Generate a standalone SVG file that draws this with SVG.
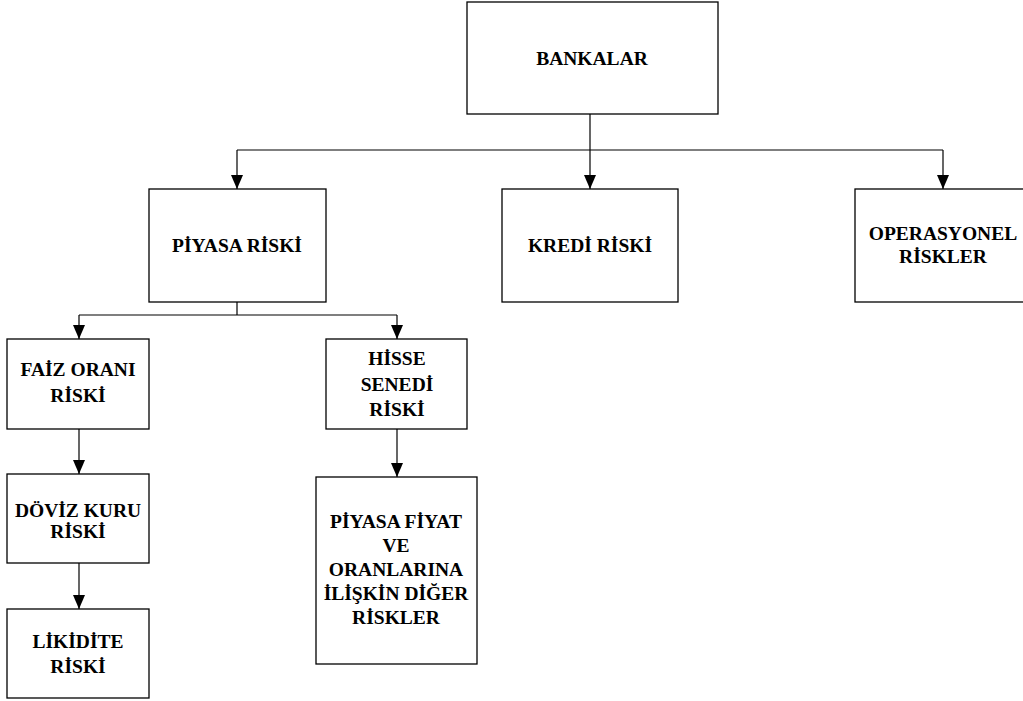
<svg xmlns="http://www.w3.org/2000/svg" width="1023" height="701" viewBox="0 0 1023 701">
<style>
.box{fill:#fff;stroke:#000;stroke-width:1.3}
.lbl{font-family:"Liberation Serif","Times New Roman",serif;font-weight:bold;font-size:19.5px;fill:#000;text-anchor:middle}
.con{fill:none;stroke:#000;stroke-width:1.2}
</style>
<defs>
<marker id="arr" markerUnits="userSpaceOnUse" markerWidth="14" markerHeight="12" refX="14" refY="6" orient="auto" viewBox="0 0 14 12">
<path d="M0,0 L14,6 L0,12 Z" fill="#000"/>
</marker>
</defs>
<rect width="1023" height="701" fill="#fff"/>
<g id="connectors">
<path class="con" d="M590,114 V150"/>
<path class="con" d="M237,150 H943"/>
<path class="con" d="M237,150 V189" marker-end="url(#arr)"/>
<path class="con" d="M590,150 V189" marker-end="url(#arr)"/>
<path class="con" d="M943,150 V189" marker-end="url(#arr)"/>
<path class="con" d="M237,302 V315 M79,315 H397"/>
<path class="con" d="M79,315 V339" marker-end="url(#arr)"/>
<path class="con" d="M397,315 V339" marker-end="url(#arr)"/>
<path class="con" d="M79,429 V474" marker-end="url(#arr)"/>
<path class="con" d="M79,563 V609" marker-end="url(#arr)"/>
<path class="con" d="M397,429 V477" marker-end="url(#arr)"/>
</g>
<g id="bankalar">
<rect class="box" x="467" y="2" width="251" height="112"/>
<text class="lbl" x="592" y="65">BANKALAR</text>
</g>
<g id="piyasa-riski">
<rect class="box" x="149" y="189" width="177" height="113"/>
<text class="lbl" x="237" y="252">PİYASA RİSKİ</text>
</g>
<g id="kredi-riski">
<rect class="box" x="502" y="189" width="176" height="113"/>
<text class="lbl" x="590" y="252">KREDİ RİSKİ</text>
</g>
<g id="operasyonel-riskler">
<rect class="box" x="855" y="189" width="176" height="113"/>
<text class="lbl" x="943" y="240">OPERASYONEL</text>
<text class="lbl" x="943" y="263">RİSKLER</text>
</g>
<g id="faiz-orani-riski">
<rect class="box" x="7" y="339" width="142" height="90"/>
<text class="lbl" x="78" y="376">FAİZ ORANI</text>
<text class="lbl" x="78" y="402">RİSKİ</text>
</g>
<g id="hisse-senedi-riski">
<rect class="box" x="326" y="339" width="141" height="90"/>
<text class="lbl" x="397" y="365">HİSSE</text>
<text class="lbl" x="397" y="391">SENEDİ</text>
<text class="lbl" x="397" y="416">RİSKİ</text>
</g>
<g id="doviz-kuru-riski">
<rect class="box" x="7" y="474" width="142" height="89"/>
<text class="lbl" x="78" y="517">DÖVİZ KURU</text>
<text class="lbl" x="78" y="538">RİSKİ</text>
</g>
<g id="likidite-riski">
<rect class="box" x="7" y="609" width="142" height="89"/>
<text class="lbl" x="78" y="648">LİKİDİTE</text>
<text class="lbl" x="78" y="673">RİSKİ</text>
</g>
<g id="piyasa-fiyat">
<rect class="box" x="316" y="477" width="161" height="187"/>
<text class="lbl" x="396" y="528">PİYASA FİYAT</text>
<text class="lbl" x="396" y="552">VE</text>
<text class="lbl" x="396" y="576">ORANLARINA</text>
<text class="lbl" x="396" y="600">İLİŞKİN DİĞER</text>
<text class="lbl" x="396" y="624">RİSKLER</text>
</g>
</svg>
